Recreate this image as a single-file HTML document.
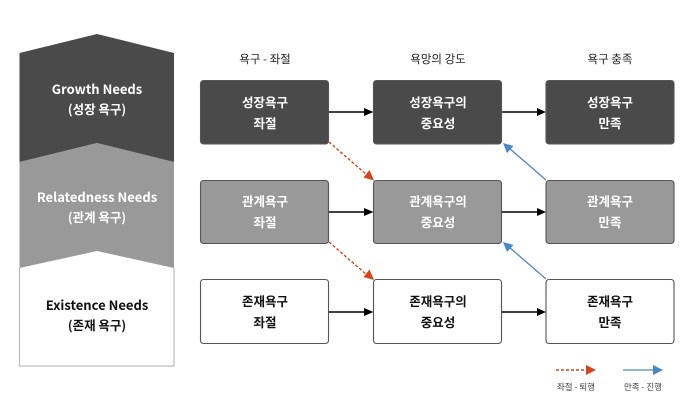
<!DOCTYPE html>
<html><head><meta charset="utf-8">
<style>
html,body{margin:0;padding:0;background:#fff;width:700px;height:412px;overflow:hidden}
svg{display:block}
text{font-family:"Noto Sans CJK KR","Liberation Sans",sans-serif;text-anchor:middle}
.b{font-size:12.5px;font-weight:700}
.n{font-size:13px;font-weight:700}
.h{font-size:11.5px;fill:#222}
.l{font-size:8.5px;fill:#444}
</style></head><body>
<svg width="700" height="412" viewBox="0 0 700 412">
<polygon points="19.500,268 97,251 174,268 174,366 19.500,366" fill="#fff"/>
<polyline points="19.500,268 19.500,366 174,366 174,268" fill="none" stroke="#bdbdbd" stroke-width="1.2"/>
<polygon points="19.500,162 97,143 174,162 174,268 97,251 19.500,268" fill="#999"/>
<polygon points="19.500,53 97,34 174,53 174,162 97,143 19.500,162" fill="#4a4a4a"/>
<text class="n" x="97" y="94" fill="#fff">Growth Needs</text>
<text class="b" x="97" y="114" fill="#fff">(성장 욕구)</text>
<text class="n" x="97" y="202" fill="#fff">Relatedness Needs</text>
<text class="b" x="97" y="222" fill="#fff">(관계 욕구)</text>
<text class="n" x="97" y="310" fill="#111">Existence Needs</text>
<text class="b" x="97" y="330" fill="#111">(존재 욕구)</text>

<text class="h" x="265" y="63">욕구 - 좌절</text>
<text class="h" x="438" y="63">욕망의 강도</text>
<text class="h" x="610" y="63">욕구 충족</text>

<g stroke="#555" stroke-width="1.1">
<rect x="200.500" y="80.500" width="128" height="63.500" rx="3" fill="#4a4a4a"/>
<rect x="373.500" y="80.500" width="128" height="63.500" rx="3" fill="#4a4a4a"/>
<rect x="546" y="80.500" width="128" height="63.500" rx="3" fill="#4a4a4a"/>
<rect x="200.500" y="180.500" width="128" height="63" rx="3" fill="#999"/>
<rect x="373.500" y="180.500" width="128" height="63" rx="3" fill="#999"/>
<rect x="546" y="180.500" width="128" height="63" rx="3" fill="#999"/>
<rect x="200.500" y="279.500" width="128" height="64" rx="3" fill="#fff"/>
<rect x="373.500" y="279.500" width="128" height="64" rx="3" fill="#fff"/>
<rect x="546" y="279.500" width="128" height="64" rx="3" fill="#fff"/>
</g>

<g fill="#fff">
<text class="b" x="265" y="107">성장욕구</text><text class="b" x="265" y="128">좌절</text>
<text class="b" x="438" y="107">성장욕구의</text><text class="b" x="438" y="128">중요성</text>
<text class="b" x="610" y="107">성장욕구</text><text class="b" x="610" y="128">만족</text>
<text class="b" x="265" y="206">관계욕구</text><text class="b" x="265" y="227">좌절</text>
<text class="b" x="438" y="206">관계욕구의</text><text class="b" x="438" y="227">중요성</text>
<text class="b" x="610" y="206">관계욕구</text><text class="b" x="610" y="227">만족</text>
</g>
<g fill="#111">
<text class="b" x="265" y="306">존재욕구</text><text class="b" x="265" y="327">좌절</text>
<text class="b" x="438" y="306">존재욕구의</text><text class="b" x="438" y="327">중요성</text>
<text class="b" x="610" y="306">존재욕구</text><text class="b" x="610" y="327">만족</text>
</g>

<g stroke="#000" stroke-width="1.4">
<line x1="329" y1="112" x2="366" y2="112"/>
<line x1="502" y1="112" x2="539" y2="112"/>
<line x1="329" y1="212" x2="366" y2="212"/>
<line x1="502" y1="212" x2="539" y2="212"/>
<line x1="329" y1="312" x2="366" y2="312"/>
<line x1="502" y1="312" x2="539" y2="312"/>
</g>
<g fill="#000">
<polygon points="364,108 373.500,112 364,116"/>
<polygon points="537,108 546,112 537,116"/>
<polygon points="364,208 373.500,212 364,216"/>
<polygon points="537,208 546,212 537,216"/>
<polygon points="364,308 373.500,312 364,316"/>
<polygon points="537,308 546,312 537,316"/>
</g>

<g stroke="#d2461e" stroke-width="1.4" stroke-dasharray="3 2" fill="none">
<line x1="329" y1="142" x2="367" y2="175"/>
<line x1="329" y1="242" x2="367" y2="275"/>
<line x1="556" y1="370" x2="587" y2="370"/>
</g>
<g fill="#d2461e">
<polygon points="374,180.500 363.500,177.500 369.500,170"/>
<polygon points="374,280 363.500,277 369.500,269.500"/>
<polygon points="586,365 596,370 586,375"/>
</g>

<g stroke="#4a86c8" stroke-width="1.3" fill="none">
<line x1="546" y1="180" x2="509" y2="148"/>
<line x1="546" y1="279" x2="509" y2="247"/>
<line x1="623" y1="370" x2="654" y2="370"/>
</g>
<g fill="#4a86c8">
<polygon points="503,143 513.500,146 507,153"/>
<polygon points="503,242 513.500,245 507,252"/>
<polygon points="653,365 663,370 653,375"/>
</g>

<text class="l" x="576" y="390">좌절 - 퇴행</text>
<text class="l" x="643" y="390">만족 - 진행</text>
</svg>
</body></html>
